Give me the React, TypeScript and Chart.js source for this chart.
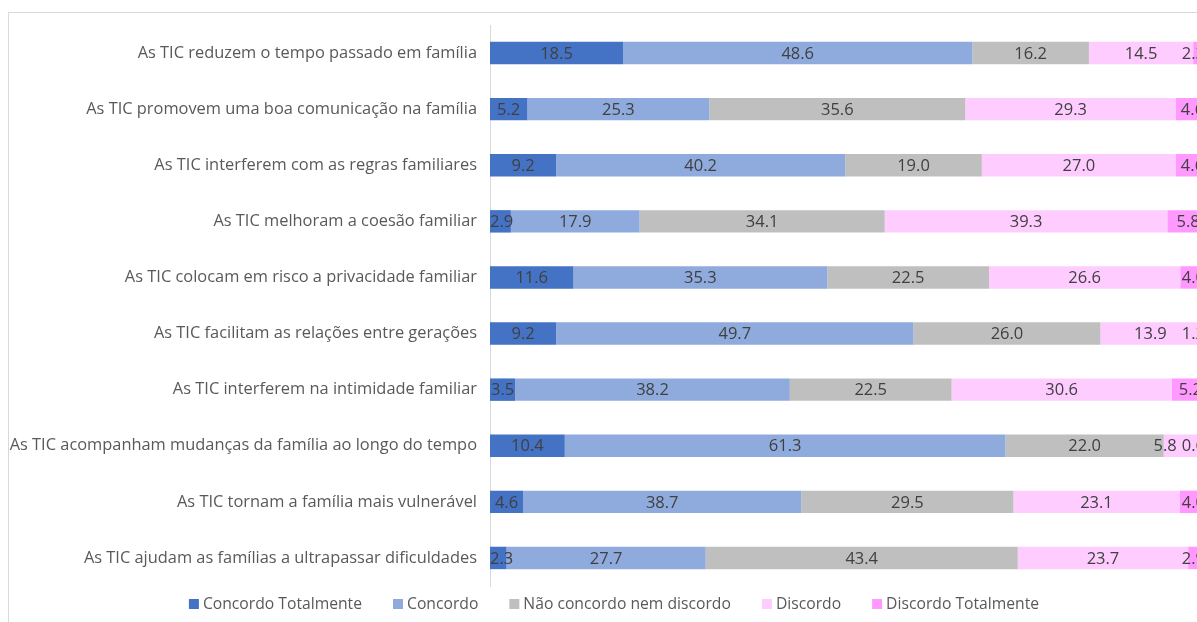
import React, { useEffect, useRef } from "react";
import { Chart, registerables } from "chart.js";

Chart.register(...registerables);

const categories = [
  "As TIC reduzem o tempo passado em família",
  "As TIC promovem uma boa comunicação na família",
  "As TIC interferem com as regras familiares",
  "As TIC melhoram a coesão familiar",
  "As TIC colocam em risco a privacidade familiar",
  "As TIC facilitam as relações entre gerações",
  "As TIC interferem na intimidade familiar",
  "As TIC acompanham mudanças da família ao longo do tempo",
  "As TIC tornam a família mais vulnerável",
  "As TIC ajudam as famílias a ultrapassar dificuldades",
];

const concordoTotalmente = [18.5, 5.2, 9.2, 2.9, 11.6, 9.2, 3.5, 10.4, 4.6, 2.3];
const concordo = [48.6, 25.3, 40.2, 17.9, 35.3, 49.7, 38.2, 61.3, 38.7, 27.7];
const naoConcordoNemDiscordo = [16.2, 35.6, 19.0, 34.1, 22.5, 26.0, 22.5, 22.0, 29.5, 43.4];
const discordo = [14.5, 29.3, 27.0, 39.3, 26.6, 13.9, 30.6, 5.8, 23.1, 23.7];
const discordoTotalmente = [2.3, 4.6, 4.6, 5.8, 4.0, 1.2, 5.2, 0.6, 4.0, 2.9];

const seriesNames = [
  "Concordo Totalmente",
  "Concordo",
  "Não concordo nem discordo",
  "Discordo",
  "Discordo Totalmente",
];
const seriesValues = [concordoTotalmente, concordo, naoConcordoNemDiscordo, discordo, discordoTotalmente];
const seriesColors = ["#4472C4", "#8FAADC", "#BFBFBF", "#FFCCFF", "#FF99FF"];

const FONT = "'Open Sans', Lato, sans-serif";

const valueLabels = {
  id: "valueLabels",
  afterDatasetsDraw(chart: any) {
    const ctx = chart.ctx;
    const area = chart.chartArea;
    ctx.save();
    ctx.font = `16.5px ${FONT}`;
    ctx.fillStyle = "#404040";
    ctx.textAlign = "left";
    ctx.textBaseline = "middle";
    const nDs = chart.data.datasets.length;
    const nRows = chart.data.labels.length;
    for (let j = 0; j < nRows; j++) {
      const items: { txt: string; left: number; w: number; y: number }[] = [];
      for (let i = 0; i < nDs; i++) {
        const bar = chart.getDatasetMeta(i).data[j];
        const p = bar.getProps(["x", "base", "y"], true);
        const txt = Number(chart.data.datasets[i].data[j]).toFixed(1);
        const w = ctx.measureText(txt).width;
        let left = (p.x + p.base) / 2 - w / 2;
        if (left + w > area.right - 4) left = area.right - 4 - w;
        if (left < area.left) left = area.left;
        items.push({ txt, left, w, y: p.y });
      }
      for (let k = items.length - 2; k >= 0; k--) {
        const cur = items[k];
        const next = items[k + 1];
        if (cur.left + cur.w > next.left - 5) cur.left = next.left - 5 - cur.w;
      }
      items.forEach((it) => ctx.fillText(it.txt, it.left, it.y + 1));
    }
    ctx.restore();
  },
};

const customLegend = {
  id: "customLegend",
  afterDraw(chart: any) {
    const ctx = chart.ctx;
    ctx.save();
    ctx.font = `15.7px ${FONT}`;
    ctx.textBaseline = "middle";
    ctx.textAlign = "left";
    const box = 10;
    const gapBoxText = 4;
    const gapItems = 31;
    const widths = seriesNames.map((n) => box + gapBoxText + ctx.measureText(n).width);
    const total = widths.reduce((a, b) => a + b, 0) + gapItems * (seriesNames.length - 1);
    let x = chart.width / 2 - total / 2;
    const y = chart.chartArea.bottom + 18;
    seriesNames.forEach((n, i) => {
      ctx.fillStyle = seriesColors[i];
      ctx.fillRect(x, y - box / 2, box, box);
      ctx.fillStyle = "#595959";
      ctx.fillText(n, x + box + gapBoxText, y + 1);
      x += widths[i] + gapItems;
    });
    ctx.restore();
  },
};

export default function App() {
  const ref = useRef<HTMLCanvasElement | null>(null);

  useEffect(() => {
    document.body.style.overflow = "hidden";
    const canvas = ref.current;
    if (!canvas) return;
    const chart = new Chart(canvas, {
      type: "bar",
      data: {
        labels: categories,
        datasets: seriesNames.map((name, i) => ({
          label: name,
          data: seriesValues[i],
          backgroundColor: seriesColors[i],
          borderWidth: 0,
          barPercentage: 0.4,
          categoryPercentage: 1,
        })),
      },
      options: {
        indexAxis: "y",
        responsive: false,
        animation: false,
        layout: { padding: { left: 0, right: 10, top: 12, bottom: 49 } },
        plugins: {
          legend: { display: false },
          tooltip: { enabled: false },
        },
        scales: {
          x: {
            stacked: true,
            min: 0,
            max: 100,
            display: false,
          },
          y: {
            stacked: true,
            grid: { display: false, drawTicks: false },
            border: { display: true, color: "#D9D9D9", width: 1 },
            ticks: {
              color: "#595959",
              font: { family: FONT, size: 16.4 },
              padding: 13,
            },
            afterFit(scale: any) {
              scale.width = 481;
              scale.paddingTop = 0;
              scale.paddingBottom = 0;
            },
          },
        },
      },
      plugins: [valueLabels, customLegend],
    });
    return () => chart.destroy();
  }, []);

  return (
    <div
      style={{
        position: "absolute",
        left: 8,
        top: 12,
        width: 1260,
        height: 660,
        borderLeft: "1px solid #D9D9D9",
        borderTop: "1px solid #D9D9D9",
        background: "#fff",
      }}
    >
      <canvas
        ref={ref}
        width={1210}
        height={622}
        style={{ position: "absolute", left: 0, top: 0, width: 1210, height: 622 }}
      />
    </div>
  );
}
